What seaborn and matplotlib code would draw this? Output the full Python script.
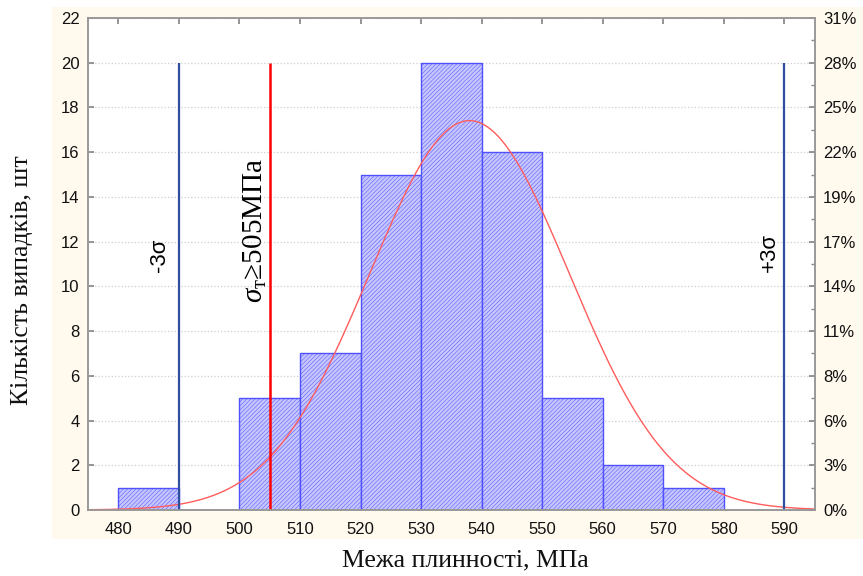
import numpy as np
import matplotlib
matplotlib.use('Agg')
import matplotlib.pyplot as plt
from matplotlib.patches import Rectangle
from matplotlib.ticker import MultipleLocator
import seaborn as sns

sns.set_theme(style='white')
plt.rcParams['font.family'] = ['Liberation Sans', 'DejaVu Sans']
plt.rcParams['mathtext.fontset'] = 'custom'
plt.rcParams['mathtext.it'] = 'Liberation Serif:italic'
plt.rcParams['mathtext.rm'] = 'Liberation Serif'
plt.rcParams['hatch.linewidth'] = 0.35

# дані гістограми
bin_left = [480, 490, 500, 510, 520, 530, 540, 550, 560, 570]
counts = [1, 0, 5, 7, 15, 20, 16, 5, 2, 1]
bin_width = 10
mu, sigma = 538.0, 16.5
minus3s, plus3s, limit = 490, 590, 505
x_ticks = list(range(480, 600, 10))
y_ticks = list(range(0, 24, 2))

n_total = sum(counts)
edges = bin_left + [bin_left[-1] + bin_width]
serif = ['Liberation Serif', 'DejaVu Serif']

fig = plt.figure(figsize=(8.63, 5.76), dpi=100)
fig.patch.set_facecolor('white')
fig.patches.append(Rectangle((0.0603, 0.0642), 0.94, 0.924, transform=fig.transFigure,
                             facecolor='#fff9ee', edgecolor='none', zorder=-10))
ax = fig.add_axes([0.102, 0.1146, 0.842, 0.8542])
ax.set_facecolor('white')

sns.histplot(x=bin_left, weights=counts, bins=edges, ax=ax, stat='count',
             facecolor='#c6c6ff', edgecolor='#5050ff', linewidth=1.0, hatch='////////',
             alpha=1, zorder=2)

xs = np.linspace(475, 595, 400)
ys = n_total * bin_width * np.exp(-0.5 * ((xs - mu) / sigma) ** 2) / (sigma * np.sqrt(2 * np.pi))
sns.lineplot(x=xs, y=ys, ax=ax, color='#ff5c5c', linewidth=1.0, zorder=4)

ax.vlines([minus3s, plus3s], 0, 20, color='#2e4e9e', linewidth=1.6, zorder=5)
ax.vlines([limit], 0, 20, color='#ff0000', linewidth=1.8, zorder=5)

ax.text(486.8, 11.4, '-3σ', rotation=90, ha='center', va='center', fontsize=16, color='black')
ax.text(587.6, 11.5, '+3σ', rotation=90, ha='center', va='center', fontsize=16, color='black')
ax.text(502.6, 12.5, r'$\sigma_{\mathregular{т}}$≥505МПа', rotation=90, ha='center', va='center',
        fontsize=21, color='black', family=serif)

ax.set_xlim(475, 595)
ax.set_ylim(0, 22)
ax.set_xticks(x_ticks)
ax.set_yticks(y_ticks)
ax.yaxis.grid(True, linestyle=':', color='#cfcfcf', linewidth=0.9, zorder=0)
ax.set_axisbelow(True)
ax.tick_params(axis='both', direction='in', length=4, color='#888888', labelsize=12,
               labelcolor='#111111', top=True, pad=6)
ax.tick_params(axis='x', pad=9)
for s in ax.spines.values():
    s.set_color('#999999')
    s.set_linewidth(1.2)

ax.set_xlabel('Межа плинності, МПа', fontsize=18.5, family=serif, color='#111111')
ax.set_ylabel('Кількість випадків, шт', fontsize=18.5, family=serif, color='#111111')
ax.xaxis.set_label_coords(0.519, -0.08)
ax.yaxis.set_label_coords(-0.076, 0.4675)

ax2 = ax.twinx()
ax2.set_ylim(0, 22)
ax2.set_yticks(y_ticks)
ax2.set_yticklabels([f'{round(v / n_total * 100)}%' for v in y_ticks])
ax2.yaxis.set_minor_locator(MultipleLocator(1))
ax2.tick_params(axis='y', which='both', direction='in', color='#888888', labelsize=12,
                labelcolor='#111111', pad=6)
ax2.tick_params(axis='y', which='major', length=4)
ax2.tick_params(axis='y', which='minor', length=3)
ax2.grid(False)
for s in ax2.spines.values():
    s.set_color('#999999')
    s.set_linewidth(1.2)

fig.savefig('out.png', dpi=100)
